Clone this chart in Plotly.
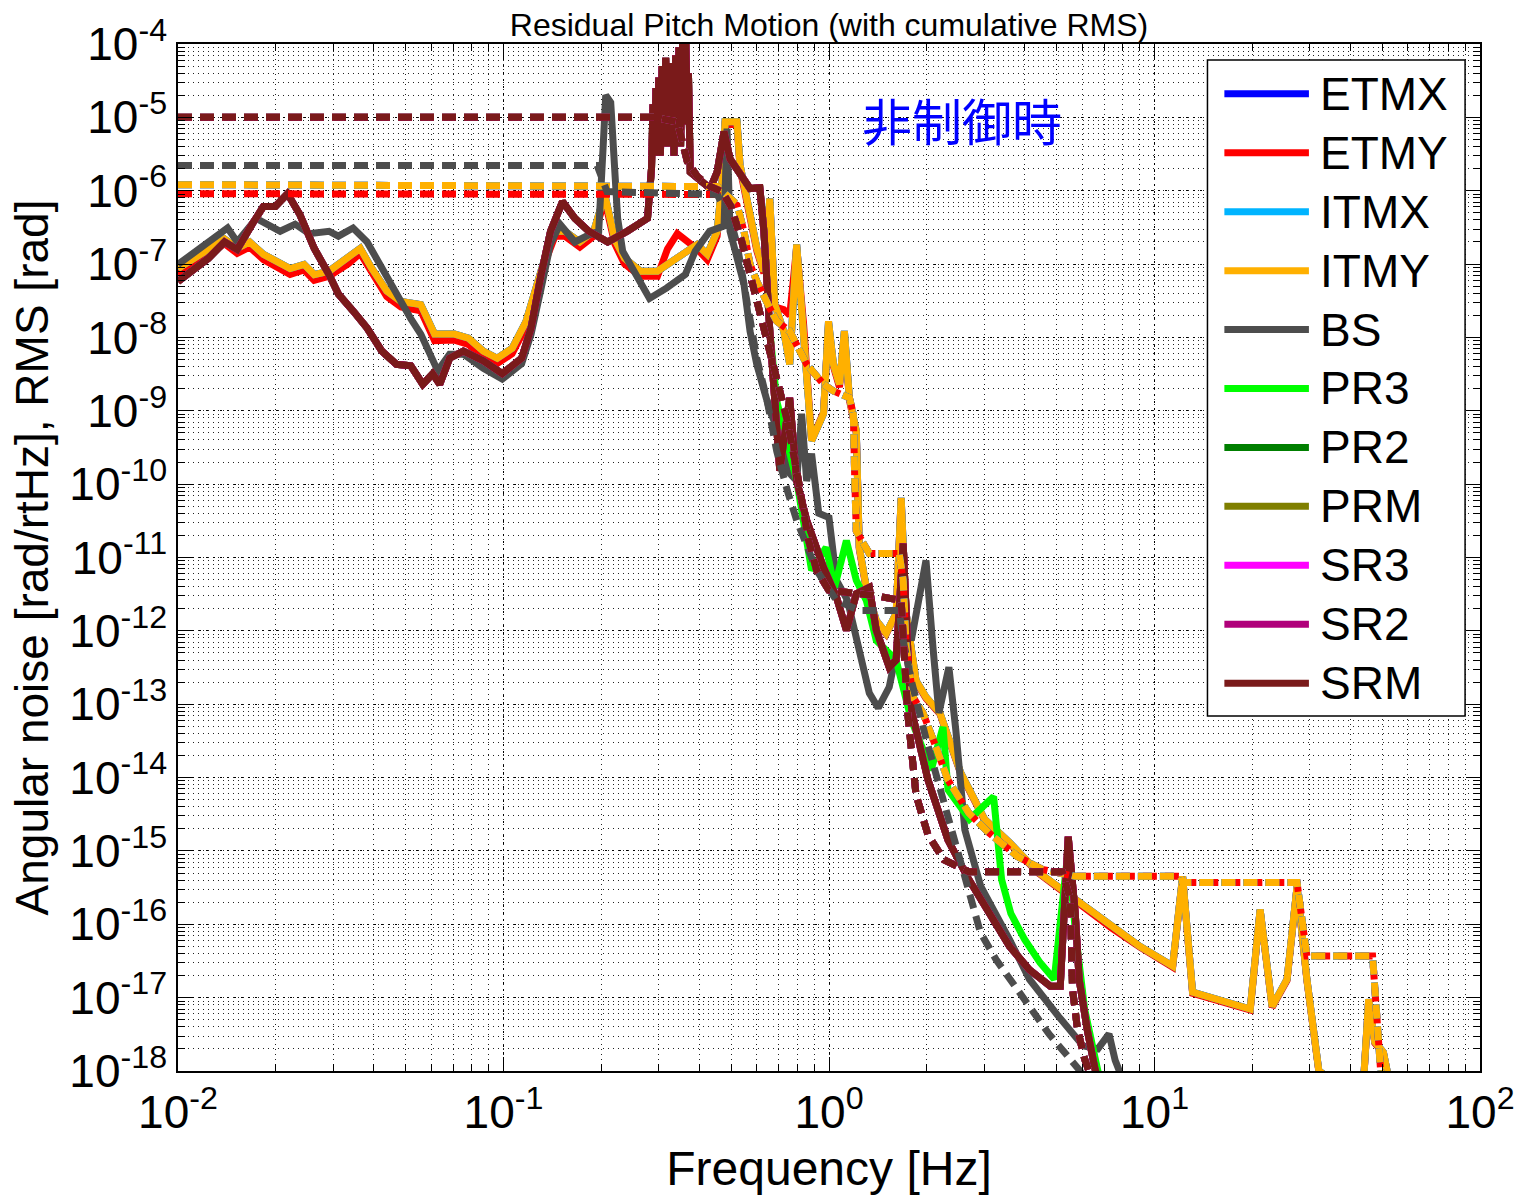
import plotly.graph_objects as go

# ---------------- data ----------------
names = ["ETMX", "ETMY", "ITMX", "ITMY", "BS", "PR3", "PR2", "PRM", "SR3", "SR2", "SRM"]
colors = ["#0000FF", "#FF0000", "#00B4FF", "#FFB000", "#4D4D4D", "#00FF00",
          "#007F00", "#7F7F00", "#FF00FF", "#B0007A", "#7A1A1A"]

x_tick_vals = [1e-2, 1e-1, 1e0, 1e1, 1e2]
x_tick_text = ["10<sup>-2</sup>", "10<sup>-1</sup>", "10<sup>0</sup>", "10<sup>1</sup>", "10<sup>2</sup>"]
y_tick_vals = [1e-18, 1e-17, 1e-16, 1e-15, 1e-14, 1e-13, 1e-12, 1e-11,
               1e-10, 1e-9, 1e-8, 1e-7, 1e-6, 1e-5, 1e-4]
y_tick_text = ["10<sup>-18</sup>", "10<sup>-17</sup>", "10<sup>-16</sup>", "10<sup>-15</sup>",
               "10<sup>-14</sup>", "10<sup>-13</sup>", "10<sup>-12</sup>", "10<sup>-11</sup>",
               "10<sup>-10</sup>", "10<sup>-9</sup>", "10<sup>-8</sup>", "10<sup>-7</sup>",
               "10<sup>-6</sup>", "10<sup>-5</sup>", "10<sup>-4</sup>"]

# ITMY (orange) amplitude spectral density
itmy_f = [0.0100, 0.0112, 0.0124, 0.0139, 0.0152, 0.0166, 0.0183, 0.0206, 0.0221, 0.0244,
          0.0262, 0.0291, 0.0333, 0.0363, 0.0394, 0.0438, 0.0484, 0.0557, 0.0614, 0.0707,
          0.0780, 0.0867, 0.0957, 0.1063, 0.1173, 0.1259, 0.1351, 0.1439, 0.1544, 0.1716,
          0.1894, 0.2047, 0.2196, 0.2355, 0.2636, 0.2971, 0.3189, 0.3420, 0.3936, 0.4225,
          0.4532, 0.4693, 0.4794, 0.5217, 0.5329, 0.6004, 0.6307, 0.6579, 0.6815, 0.7261,
          0.7574, 0.7956, 0.8358, 0.884, 0.9621, 0.9966, 1.032, 1.077, 1.115, 1.155,
          1.213, 1.239, 1.302, 1.397, 1.499, 1.608, 1.666, 1.702, 1.726, 1.851,
          1.986, 2.192, 2.540, 3.008, 3.586, 4.398, 5.706, 7.351, 9.015, 11.37,
          12.20, 13.09, 19.68, 21.11, 22.98, 25.54, 27.41, 29.39, 31.99, 43.5,
          45.5, 47.5, 50.5, 53.5]
itmy_asd = [8.7e-8, 1.2e-7, 1.58e-7, 2.2e-7, 1.64e-7, 2.0e-7, 1.36e-7, 9.9e-8, 8.7e-8, 9.9e-8,
            7.2e-8, 8.0e-8, 1.2e-7, 1.64e-7, 8.7e-8, 4.3e-8, 3.1e-8, 2.8e-8, 1.11e-8, 1.11e-8,
            9.8e-9, 6.5e-9, 5.2e-9, 7.1e-9, 1.66e-8, 4.7e-8, 1.36e-7, 2.8e-7, 2.8e-7, 2.0e-7,
            2.8e-7, 8.9e-7, 2.2e-7, 1.2e-7, 8.0e-8, 8.0e-8, 9.9e-8, 1.2e-7, 1.85e-7, 1.36e-7,
            2.8e-7, 1.33e-6, 8.7e-6, 8.7e-6, 2.27e-6, 1.64e-7, 8.0e-8, 7.8e-7, 2.8e-8, 1.22e-8,
            4.3e-9, 1.85e-7, 1.22e-8, 3.9e-10, 9.1e-10, 1.66e-8, 4.3e-9, 2.3e-9, 1.22e-8, 1.5e-9,
            5.3e-10, 1.37e-11, 3.9e-12, 1.39e-12, 9.3e-13, 1.73e-12, 6.5e-11, 4.9e-12, 1.73e-12, 2.1e-13,
            1.25e-13, 7.6e-14, 1.16e-14, 2.7e-15, 1.3e-15, 5.1e-16, 2.2e-16, 9.3e-17, 5.0e-17, 2.7e-17,
            4.5e-16, 1.19e-17, 7.0e-18, 1.59e-16, 7.6e-18, 1.78e-17, 3.3e-16, 1.78e-17, 1.0e-18, 4.0e-19,
            9.5e-18, 2.5e-18, 1.8e-18, 5.0e-19]

# ETMY (red) amplitude spectral density, same frequency points as ITMY
etmy_asd = [7.2e-8, 1.0e-7, 1.35e-7, 1.9e-7, 1.4e-7, 1.7e-7, 1.15e-7, 8.3e-8, 7.2e-8, 8.3e-8,
            6.0e-8, 6.8e-8, 1.0e-7, 1.4e-7, 7.4e-8, 3.6e-8, 2.6e-8, 2.3e-8, 9.0e-9, 9.2e-9,
            8.0e-9, 5.4e-9, 4.4e-9, 6.0e-9, 1.4e-8, 4.0e-8, 1.15e-7, 2.4e-7, 2.4e-7, 1.7e-7,
            2.4e-7, 7.5e-7, 1.9e-7, 1.0e-7, 6.8e-8, 6.8e-8, 1.6e-7, 2.6e-7, 1.6e-7, 1.15e-7,
            2.4e-7, 1.2e-6, 8.0e-6, 8.0e-6, 2.0e-6, 1.5e-7, 7.5e-8, 7.0e-7, 2.6e-8, 2.4e-8,
            2.0e-8, 1.7e-7, 1.5e-8, 4.0e-10, 9.5e-10, 1.5e-8, 4.0e-9, 2.1e-9, 1.1e-8, 1.4e-9,
            5.0e-10, 1.3e-11, 3.7e-12, 1.3e-12, 9.0e-13, 1.7e-12, 6.3e-11, 4.7e-12, 1.7e-12, 2.0e-13,
            1.2e-13, 7.4e-14, 1.12e-14, 2.6e-15, 1.26e-15, 5.0e-16, 2.1e-16, 9.0e-17, 4.9e-17, 2.6e-17,
            4.4e-16, 1.15e-17, 6.8e-18, 1.55e-16, 7.4e-18, 1.72e-17, 3.2e-16, 1.72e-17, 9.7e-19, 3.9e-19,
            9.2e-18, 2.4e-18, 1.75e-18, 4.9e-19]

# ITMY cumulative RMS (dashed)
itmy_rms_f = [0.0100, 0.3669, 0.4532, 0.5217, 0.548, 0.572, 0.6004, 0.658, 0.691, 0.757,
              0.854, 0.962, 1.032, 1.155, 1.188, 1.200, 1.213, 1.330, 1.643, 1.690,
              1.726, 1.813, 1.945, 2.131, 2.319, 2.687, 3.094, 3.794, 4.524, 5.706,
              12.03, 12.20, 27.41, 29.39, 46.77, 49.47, 50.5]
itmy_rms = [1.21e-6, 1.19e-6, 1.14e-6, 6.5e-7, 2.8e-7, 9.9e-8, 5.8e-8, 2.5e-8, 1.66e-8, 1.22e-8,
            4.3e-9, 2.3e-9, 1.86e-9, 1.5e-9, 9.1e-10, 1.11e-10, 2.3e-11, 1.13e-11, 1.13e-11, 4.9e-12,
            6.0e-13, 1.25e-13, 7.6e-14, 2.6e-14, 9.3e-15, 3.3e-15, 1.77e-15, 8.4e-16, 5.6e-16, 4.5e-16,
            4.5e-16, 3.7e-16, 3.7e-16, 3.7e-17, 3.7e-17, 1.06e-18, 5.7e-19]

# ETMY cumulative RMS (dashed)
etmy_rms_f = [0.0100, 0.4532, 0.5217, 0.548, 0.572, 0.6004, 0.658, 0.691, 0.757,
              0.854, 0.962, 1.032, 1.155, 1.188, 1.200, 1.213, 1.330, 1.643, 1.690,
              1.726, 1.813, 1.945, 2.131, 2.319, 2.687, 3.094, 3.794, 4.524, 5.706,
              12.03, 12.20, 27.41, 29.39, 46.77, 49.47, 50.5]
etmy_rms = [9.1e-7, 8.9e-7, 6.3e-7, 2.8e-7, 9.9e-8, 5.8e-8, 2.5e-8, 1.66e-8, 1.22e-8,
            4.3e-9, 2.3e-9, 1.86e-9, 1.5e-9, 9.1e-10, 1.11e-10, 2.3e-11, 1.13e-11, 1.13e-11, 4.9e-12,
            6.0e-13, 1.25e-13, 7.6e-14, 2.6e-14, 9.3e-15, 3.3e-15, 1.77e-15, 8.4e-16, 5.6e-16, 4.5e-16,
            4.5e-16, 3.7e-16, 3.7e-16, 3.7e-17, 3.7e-17, 1.06e-18, 5.7e-19]

# BS (grey) amplitude spectral density
bs_f = [0.0100, 0.0142, 0.0152, 0.0174, 0.0206, 0.0229, 0.0253, 0.0291, 0.0311, 0.0345,
        0.0381, 0.0423, 0.0469, 0.0519, 0.0557, 0.0593, 0.0628, 0.0683, 0.0753, 0.0867,
        0.0991, 0.1137, 0.1215, 0.1305, 0.1395, 0.1491, 0.1657, 0.1828, 0.1961, 0.2032,
        0.2061, 0.2135, 0.2174, 0.2242, 0.2323, 0.2492, 0.2809, 0.3166, 0.3618, 0.3881,
        0.4300, 0.4760, 0.4862, 0.4966, 0.548, 0.572, 0.600, 0.658, 0.72, 0.745,
        0.796, 0.824, 0.854, 0.884, 0.93, 1.0, 1.054, 1.14, 1.239, 1.330,
        1.417, 1.531, 1.608, 1.726, 1.79, 1.986, 2.086, 2.176, 2.335, 2.453,
        2.613, 2.924, 3.586, 4.128, 5.064, 6.036, 6.7, 7.249, 7.57, 8.05]
bs_asd = [9.9e-8, 3.1e-7, 2.0e-7, 4.2e-7, 2.8e-7, 3.5e-7, 2.6e-7, 2.8e-7, 2.4e-7, 3.1e-7,
          2.0e-7, 8.7e-8, 3.9e-8, 1.8e-8, 1.11e-8, 5.9e-9, 3.5e-9, 5.9e-9, 5.9e-9, 3.8e-9,
          2.7e-9, 4.4e-9, 1.1e-8, 4.7e-8, 1.9e-7, 3.5e-7, 2.0e-7, 2.5e-7, 2.8e-7, 5.7e-6,
          2.0e-5, 1.6e-5, 3.4e-6, 4.2e-7, 1.5e-7, 8.7e-8, 3.4e-8, 4.7e-8, 7.2e-8, 1.5e-7,
          2.8e-7, 3.3e-7, 7.0e-6, 2.8e-7, 5.3e-8, 1.22e-8, 4.3e-9, 1.0e-9, 3.9e-10, 1.52e-10,
          1.11e-10, 9.1e-10, 1.1e-10, 2.6e-10, 4.0e-11, 3.5e-11, 4.9e-12, 2.6e-12, 5.0e-13, 1.42e-13,
          8.9e-14, 1.71e-13, 5.0e-13, 1.39e-12, 7.4e-13, 9.1e-12, 6.0e-13, 7.6e-14, 3.2e-13, 4.4e-14,
          1.95e-15, 3.3e-16, 6.2e-17, 1.78e-17, 5.6e-18, 2.2e-18, 2.0e-18, 3.2e-18, 1.4e-18, 7e-19]

# BS cumulative RMS (dashed)
bs_rms_f = [0.0100, 0.194, 0.208, 0.453, 0.497, 0.522, 0.548, 0.572, 0.600, 0.646,
            0.691, 0.745, 0.796, 0.916, 1.054, 1.239, 1.643, 1.690, 1.79, 1.99,
            2.30, 2.64, 2.92, 3.26, 3.99, 4.74, 5.91, 6.30]
bs_rms = [2.2e-6, 2.2e-6, 9.7e-7, 8.9e-7, 4.2e-7, 1.85e-7, 5.3e-8, 1.52e-8, 5.2e-9, 1.36e-9,
          2.8e-10, 8.1e-11, 3.2e-11, 6.7e-12, 2.6e-12, 1.9e-12, 1.9e-12, 7.4e-13, 2.1e-13, 3.3e-14,
          3.6e-15, 4.1e-16, 7.7e-17, 3.3e-17, 9.5e-18, 3.2e-18, 1.0e-18, 5.7e-19]

# SRM (maroon) amplitude spectral density
srm_f = [0.0100, 0.0112, 0.0124, 0.0139, 0.0152, 0.0169, 0.0183, 0.0199, 0.0217, 0.0237,
         0.0262, 0.0291, 0.0311, 0.0345, 0.0381, 0.0423, 0.0469, 0.0519, 0.0565, 0.0606,
         0.0637, 0.0683, 0.0753, 0.0867, 0.0991, 0.1137, 0.1215, 0.1305, 0.1395, 0.1518,
         0.1657, 0.1828, 0.209, 0.240, 0.277, 0.2849, 0.2880, 0.2908, 0.2940, 0.2971,
         0.3000, 0.3034, 0.3070, 0.3113, 0.3150, 0.3189, 0.3220, 0.3255, 0.3300, 0.3340,
         0.3380, 0.3420, 0.3460, 0.3500, 0.3550, 0.3593, 0.3630, 0.3669, 0.3700, 0.3748,
         0.3881, 0.4315, 0.4532, 0.476, 0.4966, 0.548, 0.572, 0.613, 0.631, 0.658,
         0.677, 0.691, 0.706, 0.757, 0.796, 0.854, 0.962, 1.054, 1.131, 1.213,
         1.330, 1.397, 1.531, 1.608, 1.690, 1.762, 1.800, 2.014, 2.319, 2.687,
         3.094, 3.586, 4.128, 4.786, 5.134, 5.432, 5.706, 5.868, 6.21, 6.567,
         7.0]
srm_asd = [5.8e-8, 8.7e-8, 1.2e-7, 2.0e-7, 1.58e-7, 3.5e-7, 6.1e-7, 6.1e-7, 9.1e-7, 4.7e-7,
           1.64e-7, 7.2e-8, 3.9e-8, 2.3e-8, 1.34e-8, 6.5e-9, 4.3e-9, 4.1e-9, 2.3e-9, 3.2e-9,
           2.3e-9, 5.2e-9, 6.5e-9, 4.8e-9, 3.2e-9, 5.2e-9, 1.34e-8, 7.2e-8, 2.8e-7, 7.1e-7,
           4.2e-7, 2.8e-7, 2.0e-7, 2.8e-7, 4.2e-7, 2.0e-6, 1.5e-5, 3.0e-6, 2.5e-5, 4.0e-6,
           3.5e-5, 3.0e-6, 5.0e-5, 5.0e-6, 6.5e-5, 4.0e-6, 4.0e-5, 6.0e-6, 5.5e-5, 3.0e-6,
           7.0e-5, 5.0e-6, 9.0e-5, 4.0e-6, 1.1e-4, 8.0e-6, 1.2e-4, 1.2e-5, 4.0e-5, 1.8e-6,
           1.6e-6, 1.07e-6, 1.8e-6, 6.4e-6, 2.7e-6, 1.46e-6, 1.07e-6, 1.1e-6, 2.8e-7, 1.22e-8,
           1.5e-9, 5.3e-10, 1.52e-10, 1.5e-9, 1.11e-10, 3.2e-11, 7.3e-12, 2.9e-12, 1.02e-12, 3.2e-12,
           3.9e-12, 1.02e-12, 3.2e-13, 4.0e-13, 1.55e-11, 2.1e-13, 7.6e-14, 9.3e-15, 1.42e-15, 4.1e-16,
           1.45e-16, 5.0e-17, 2.4e-17, 1.43e-17, 1.43e-17, 1.56e-15, 1.45e-16, 1.78e-17, 3.7e-18, 1.06e-18,
           4.0e-19]

# SRM cumulative RMS (dashed)
srm_rms_f = [0.0100, 0.290, 0.342, 0.367, 0.394, 0.4315, 0.469, 0.500, 0.540, 0.600,
             0.667, 0.745, 0.796, 0.824, 0.866, 0.916, 0.997, 1.397, 1.666, 1.700,
             1.745, 1.851, 2.014, 2.254, 2.687, 5.208, 5.51, 5.60, 5.80, 6.10, 6.57]
srm_rms = [1.0e-5, 1.0e-5, 8.7e-6, 2.5e-6, 1.56e-6, 1.14e-6, 9.7e-7, 6.1e-7, 2.0e-7, 3.1e-8,
           4.8e-9, 7.3e-10, 1.52e-10, 6.0e-11, 1.7e-11, 6.7e-12, 3.6e-12, 3.0e-12, 2.6e-12, 5.4e-13,
           7.6e-14, 5.8e-15, 1.66e-15, 7.6e-16, 5.2e-16, 5.2e-16, 2.2e-16, 1.3e-17, 3.7e-18, 1.46e-18, 5.7e-19]

# PR3 (green) amplitude spectral density above 0.66 Hz (below that it lies under SRM)
pr3_f_hi = [0.691, 0.796, 0.836, 0.884, 0.98, 1.04, 1.131, 1.213, 1.302, 1.397,
            1.608, 1.79, 2.06, 2.24, 2.32, 2.70, 3.204, 3.39, 3.62, 3.99,
            4.45, 4.92, 5.43, 5.71, 6.1, 6.7, 7.0]
pr3_asd_hi = [1.36e-9, 1.11e-10, 3.2e-11, 6.7e-12, 1.37e-11, 3.9e-12, 1.7e-11, 4.9e-12, 2.6e-12, 7.4e-13,
              4.0e-13, 6.1e-14, 1.27e-14, 4.9e-14, 6.8e-15, 2.7e-15, 5.5e-15, 4.1e-16, 1.4e-16, 6.2e-17,
              3.0e-17, 1.78e-17, 1.05e-15, 8.2e-17, 7e-18, 1e-18, 5.7e-19]

# ---------------- assemble per-optic series ----------------
pr3_f = [f for f in srm_f if f < 0.66] + pr3_f_hi
pr3_asd = [a for f, a in zip(srm_f, srm_asd) if f < 0.66] + pr3_asd_hi

asd_series = {
    "ETMX": (itmy_f, itmy_asd), "ETMY": (itmy_f, etmy_asd), "ITMX": (itmy_f, itmy_asd),
    "ITMY": (itmy_f, itmy_asd), "BS": (bs_f, bs_asd), "PR3": (pr3_f, pr3_asd),
    "PR2": (srm_f, srm_asd), "PRM": (srm_f, srm_asd), "SR3": (srm_f, srm_asd),
    "SR2": (srm_f, srm_asd), "SRM": (srm_f, srm_asd),
}
rms_series = {
    "ETMX": (itmy_rms_f, itmy_rms), "ETMY": (etmy_rms_f, etmy_rms), "ITMX": (itmy_rms_f, itmy_rms),
    "ITMY": (itmy_rms_f, itmy_rms), "BS": (bs_rms_f, bs_rms), "PR3": (srm_rms_f, srm_rms),
    "PR2": (srm_rms_f, srm_rms), "PRM": (srm_rms_f, srm_rms), "SR3": (srm_rms_f, srm_rms),
    "SR2": (srm_rms_f, srm_rms), "SRM": (srm_rms_f, srm_rms),
}

FONT = "Liberation Sans, Arial, Helvetica, sans-serif"
LW = 7

fig = go.Figure()
for name, col in zip(names, colors):
    f, a = asd_series[name]
    fig.add_trace(go.Scatter(x=f, y=a, mode="lines", name=name,
                             line=dict(color=col, width=LW), showlegend=False))
for name, col in zip(names, colors):
    f, r = rms_series[name]
    fig.add_trace(go.Scatter(x=f, y=r, mode="lines", name=name + " RMS",
                             line=dict(color=col, width=LW, dash="14px,8px"), showlegend=False))

# ---------------- custom legend (long line samples like the original) ----------------
L, R, T, B = 178, 1487, 42, 1072
W, H = R - L, B - T
def px(x):
    return (x - L) / W
def py(y):
    return 1 - (y - T) / H

shapes = [dict(type="rect", xref="paper", yref="paper", x0=px(1213), x1=px(1472), y0=py(716), y1=py(58),
               fillcolor="white", line=dict(color="black", width=1.5), layer="above")]
annotations = []
for i, (name, col) in enumerate(zip(names, colors)):
    yy = py(92 + 59.1 * i)
    shapes.append(dict(type="line", xref="paper", yref="paper", x0=px(1230), x1=px(1315), y0=yy, y1=yy,
                       line=dict(color=col, width=7), layer="above"))
    annotations.append(dict(xref="paper", yref="paper", x=px(1324), y=yy, text=name, showarrow=False,
                            xanchor="left", yanchor="middle", font=dict(family=FONT, size=46, color="black")))

annotations.append(dict(xref="paper", yref="paper", x=px(966), y=py(117), text="非制御時", showarrow=False,
                        xanchor="center", yanchor="middle",
                        font=dict(family="Noto Sans CJK JP", size=50, color="#0000FF")))

axis_common = dict(
    type="log", ticks="inside", ticklen=14, tickwidth=1.2, tickcolor="black",
    showline=True, linecolor="black", linewidth=1.5, mirror="allticks",
    showgrid=True, gridcolor="black", gridwidth=1, griddash="2px,5px", zeroline=False,
    tickfont=dict(family=FONT, size=46, color="black"),
    minor=dict(ticks="inside", ticklen=7, tickwidth=1, tickcolor="black", dtick="D1",
               showgrid=True, gridcolor="#222222", gridwidth=1, griddash="1px,4px"),
)

fig.update_layout(
    width=1527, height=1198,
    margin=dict(l=L, r=1527 - R, t=T, b=1198 - B),
    paper_bgcolor="white", plot_bgcolor="white",
    font=dict(family=FONT, color="black"),
    title=dict(text="Residual Pitch Motion (with cumulative RMS)", x=0.5, xref="paper",
               y=1, yref="paper", yanchor="bottom", pad=dict(b=8),
               font=dict(family=FONT, size=32, color="black")),
    xaxis=dict(axis_common, range=[-2, 2], tickvals=x_tick_vals, ticktext=x_tick_text,
               title=dict(text="Frequency [Hz]", font=dict(family=FONT, size=48), standoff=14)),
    yaxis=dict(axis_common, range=[-18, -4], tickvals=y_tick_vals, ticktext=y_tick_text,
               title=dict(text="Angular noise [rad/rtHz], RMS [rad]", font=dict(family=FONT, size=46), standoff=6)),
    shapes=shapes, annotations=annotations,
)

fig.write_html("out.html", post_script="document.body.style.margin='0';")
